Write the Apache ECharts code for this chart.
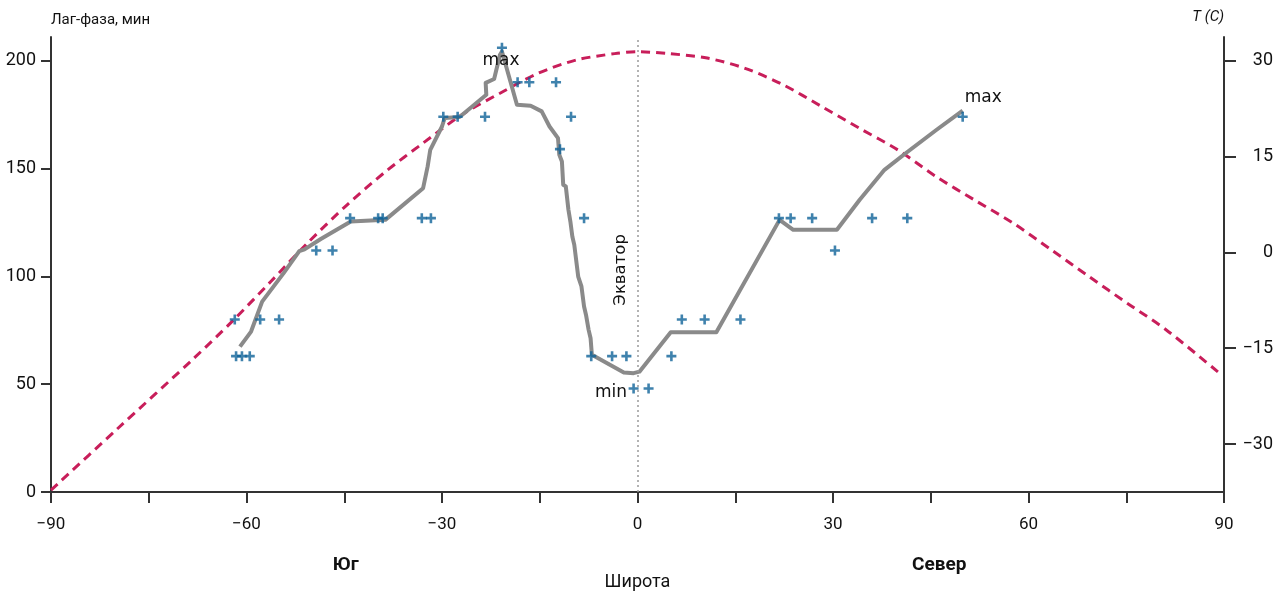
<!DOCTYPE html>
<html>
<head>
<meta charset="utf-8">
<script src="https://cdn.jsdelivr.net/npm/echarts@6/dist/echarts.min.js"></script>
<style>
  html, body { margin: 0; padding: 0; background: #fff; }
  #chart { width: 1284px; height: 592px; }
</style>
</head>
<body>
<div id="chart"></div>
<script>
// Lag phase (min) along latitude: averaged trend line
const lagLat = [-61.0, -59.3, -57.6, -54.3, -51.9, -51.1, -48.6, -44.0, -38.7, -32.9, -32.2, -31.8, -30.0, -29.6, -27.3,
  -23.2, -23.3, -22.0, -21.1, -20.8, -18.5, -16.4, -14.7, -13.5, -12.2, -12.0, -11.6, -11.4, -11.0, -10.6, -10.3, -10.0,
  -9.7, -9.1, -8.6, -8.2, -7.9, -7.5, -7.2, -7.0, -2.1, -0.6, 0.3, 5.1, 12.1, 21.8, 23.9, 30.6, 34.1, 37.9, 41.2, 45.9, 49.9];
const lagMin = [67.4, 74.4, 88.3, 101.5, 111.7, 112.5, 117.3, 125.4, 126.2, 140.9, 151.0, 158.7, 169.5, 173.4, 173.9,
  184.2, 189.7, 191.5, 202.8, 204.3, 179.6, 179.1, 176.5, 169.5, 164.1, 156.4, 153.3, 142.5, 141.7, 130.9, 125.4, 118.5,
  114.6, 99.9, 95.3, 86.0, 82.1, 75.2, 71.3, 63.6, 55.4, 55.1, 55.8, 74.1, 74.1, 126.2, 121.6, 121.6, 135.5, 149.4, 157.2, 168.0, 176.9];

// Individual measurements
const pointLat = [-61.8, -57.9, -55.0, -61.6, -60.7, -59.5, -49.3, -46.8, -44.1, -39.8, -39.1, -33.1, -31.7, -29.8, -27.6,
  -23.4, -20.8, -18.4, -16.6, -12.5, -10.2, -11.9, -8.2, -7.1, -3.9, -1.7, -0.6, 1.7, 5.2, 6.8, 10.3, 15.8, 21.7, 23.5,
  26.8, 30.3, 36.0, 41.4, 49.9];
const pointLag = [80, 80, 80, 63, 63, 63, 112, 112, 127, 127, 127, 127, 127, 174, 174,
  174, 206, 190, 190, 190, 174, 159, 127, 63, 63, 63, 48, 48, 63, 80, 80, 80, 127, 127,
  127, 112, 127, 127, 174];

// Mean temperature (°C) along latitude
const tempLat = [-90, -79.8, -68.1, -62.2, -56.3, -50.5, -44.6, -38.7, -32.9, -27.0, -21.1, -15.3, -9.4, -3.5, 0,
  4.8, 10.7, 16.5, 22.4, 28.3, 34.1, 40.0, 45.9, 51.7, 57.6, 63.5, 69.3, 75.2, 81.1, 89.3];
const tempC = [-37.2, -27.6, -16.6, -10.8, -4.6, 1.6, 7.4, 12.6, 17.1, 21.5, 24.9, 28.0, 30.1, 31.1, 31.4,
  31.1, 30.4, 28.8, 26.2, 22.8, 19.4, 16.0, 11.8, 8.2, 4.6, 0.4, -3.8, -8.0, -12.1, -18.9];

// Axis tick labels
const lagTicks = [0, 50, 100, 150, 200];
const tempTicks = [-30, -15, 0, 15, 30];

const zip = (a, b) => a.map((v, i) => [v, b[i]]);
const minusFmt = v => (v < 0 ? '\u2212' + Math.abs(v) : String(v));

const TICK_FONT = 'Roboto, "Noto Sans", sans-serif';
const NOTE_FONT = '"DejaVu Sans", Verdana, sans-serif';
const AXIS_COLOR = '#333';

// Text-only marker placed at a data coordinate, shifted by a pixel offset
const note = (name, coord, offset, style) => ({
  name, coord,
  symbol: 'circle', symbolSize: 0,
  itemStyle: { color: 'rgba(0,0,0,0)' },
  label: Object.assign({
    show: true, position: 'inside', offset, formatter: '{b}',
    color: '#111', fontFamily: NOTE_FONT, fontSize: 17
  }, style || {})
});

const chart = echarts.init(document.getElementById('chart'), null, { renderer: 'canvas' });

chart.setOption({
  animation: false,
  backgroundColor: '#fff',
  grid: { left: 51, right: 60, top: 37, bottom: 100, containLabel: false, outerBoundsMode: 'none' },
  xAxis: {
    type: 'value', min: -90, max: 90, interval: 15,
    name: 'Широта', nameLocation: 'middle', nameGap: 81,
    nameTextStyle: { fontFamily: TICK_FONT, fontSize: 18, color: '#111' },
    axisLine: { show: true, onZero: false, lineStyle: { color: AXIS_COLOR, width: 2 } },
    axisTick: { show: true, length: 11, lineStyle: { color: AXIS_COLOR, width: 2 } },
    axisLabel: {
      margin: 24, fontFamily: TICK_FONT, fontSize: 17, color: '#111',
      formatter: v => (v % 30 === 0 ? minusFmt(v) : '')
    },
    splitLine: { show: false }
  },
  yAxis: [
    {
      type: 'value', min: 0, max: 211, position: 'left',
      name: 'Лаг-фаза, мин', nameLocation: 'end', nameGap: 9,
      nameTextStyle: { fontFamily: TICK_FONT, fontSize: 15, color: '#111', align: 'left' },
      axisLine: { show: true, onZero: false, lineStyle: { color: AXIS_COLOR, width: 2 } },
      axisTick: { show: true, length: 10, customValues: lagTicks, lineStyle: { color: AXIS_COLOR, width: 2 } },
      axisLabel: { margin: 15, customValues: lagTicks, fontFamily: TICK_FONT, fontSize: 18, color: '#111' },
      splitLine: { show: false }
    },
    {
      type: 'value', min: -37.5, max: 33.7, position: 'right',
      name: 'T (C)', nameLocation: 'end', nameGap: 12,
      nameTextStyle: { fontFamily: TICK_FONT, fontSize: 15, fontStyle: 'italic', color: '#111', align: 'right' },
      axisLine: { show: true, onZero: false, lineStyle: { color: AXIS_COLOR, width: 2 } },
      axisTick: { show: true, length: 12, customValues: tempTicks, lineStyle: { color: AXIS_COLOR, width: 2 } },
      axisLabel: {
        margin: 49, align: 'right', customValues: tempTicks,
        fontFamily: TICK_FONT, fontSize: 18, color: '#111', formatter: minusFmt
      },
      splitLine: { show: false }
    }
  ],
  series: [
    {
      name: 'temperature', type: 'line', yAxisIndex: 1,
      data: zip(tempLat, tempC), smooth: 0.3, showSymbol: false,
      lineStyle: { color: '#c81e5a', width: 3, type: [9, 6] },
      z: 2,
      markLine: {
        silent: true, symbol: 'none',
        lineStyle: { color: '#9a9a9a', width: 1.5, type: [2, 3] },
        label: { show: false },
        data: [{ xAxis: 0 }]
      }
    },
    {
      name: 'lag', type: 'line', yAxisIndex: 0,
      data: zip(lagLat, lagMin), showSymbol: false,
      lineStyle: { color: '#8a8a8a', width: 4, join: 'round' },
      z: 3,
      markPoint: {
        silent: true,
        data: [
          note('max', [-20.8, 204.3], [-1, 9]),
          note('max', [49.9, 176.9], [20.5, -13]),
          note('min', [0.3, 55.8], [-28.5, 21]),
          note('Экватор', [0, 103], [0, -17], { rotate: 90, fontSize: 16.5 }),
          note('Юг', [-45, 0], [1.5, 73], { fontFamily: TICK_FONT, fontSize: 19, fontWeight: 'bold' }),
          note('Север', [45, 0], [8.5, 73], { fontFamily: TICK_FONT, fontSize: 19, fontWeight: 'bold' })
        ]
      }
    },
    {
      name: 'samples', type: 'scatter', yAxisIndex: 0,
      data: zip(pointLat, pointLag),
      symbol: 'path://M3.7 0h2.6v3.7h3.7v2.6h-3.7v3.7h-2.6v-3.7h-3.7v-2.6h3.7z', symbolSize: 10,
      itemStyle: { color: '#0f6399' },
      z: 4
    }
  ]
});
</script>
</body>
</html>
